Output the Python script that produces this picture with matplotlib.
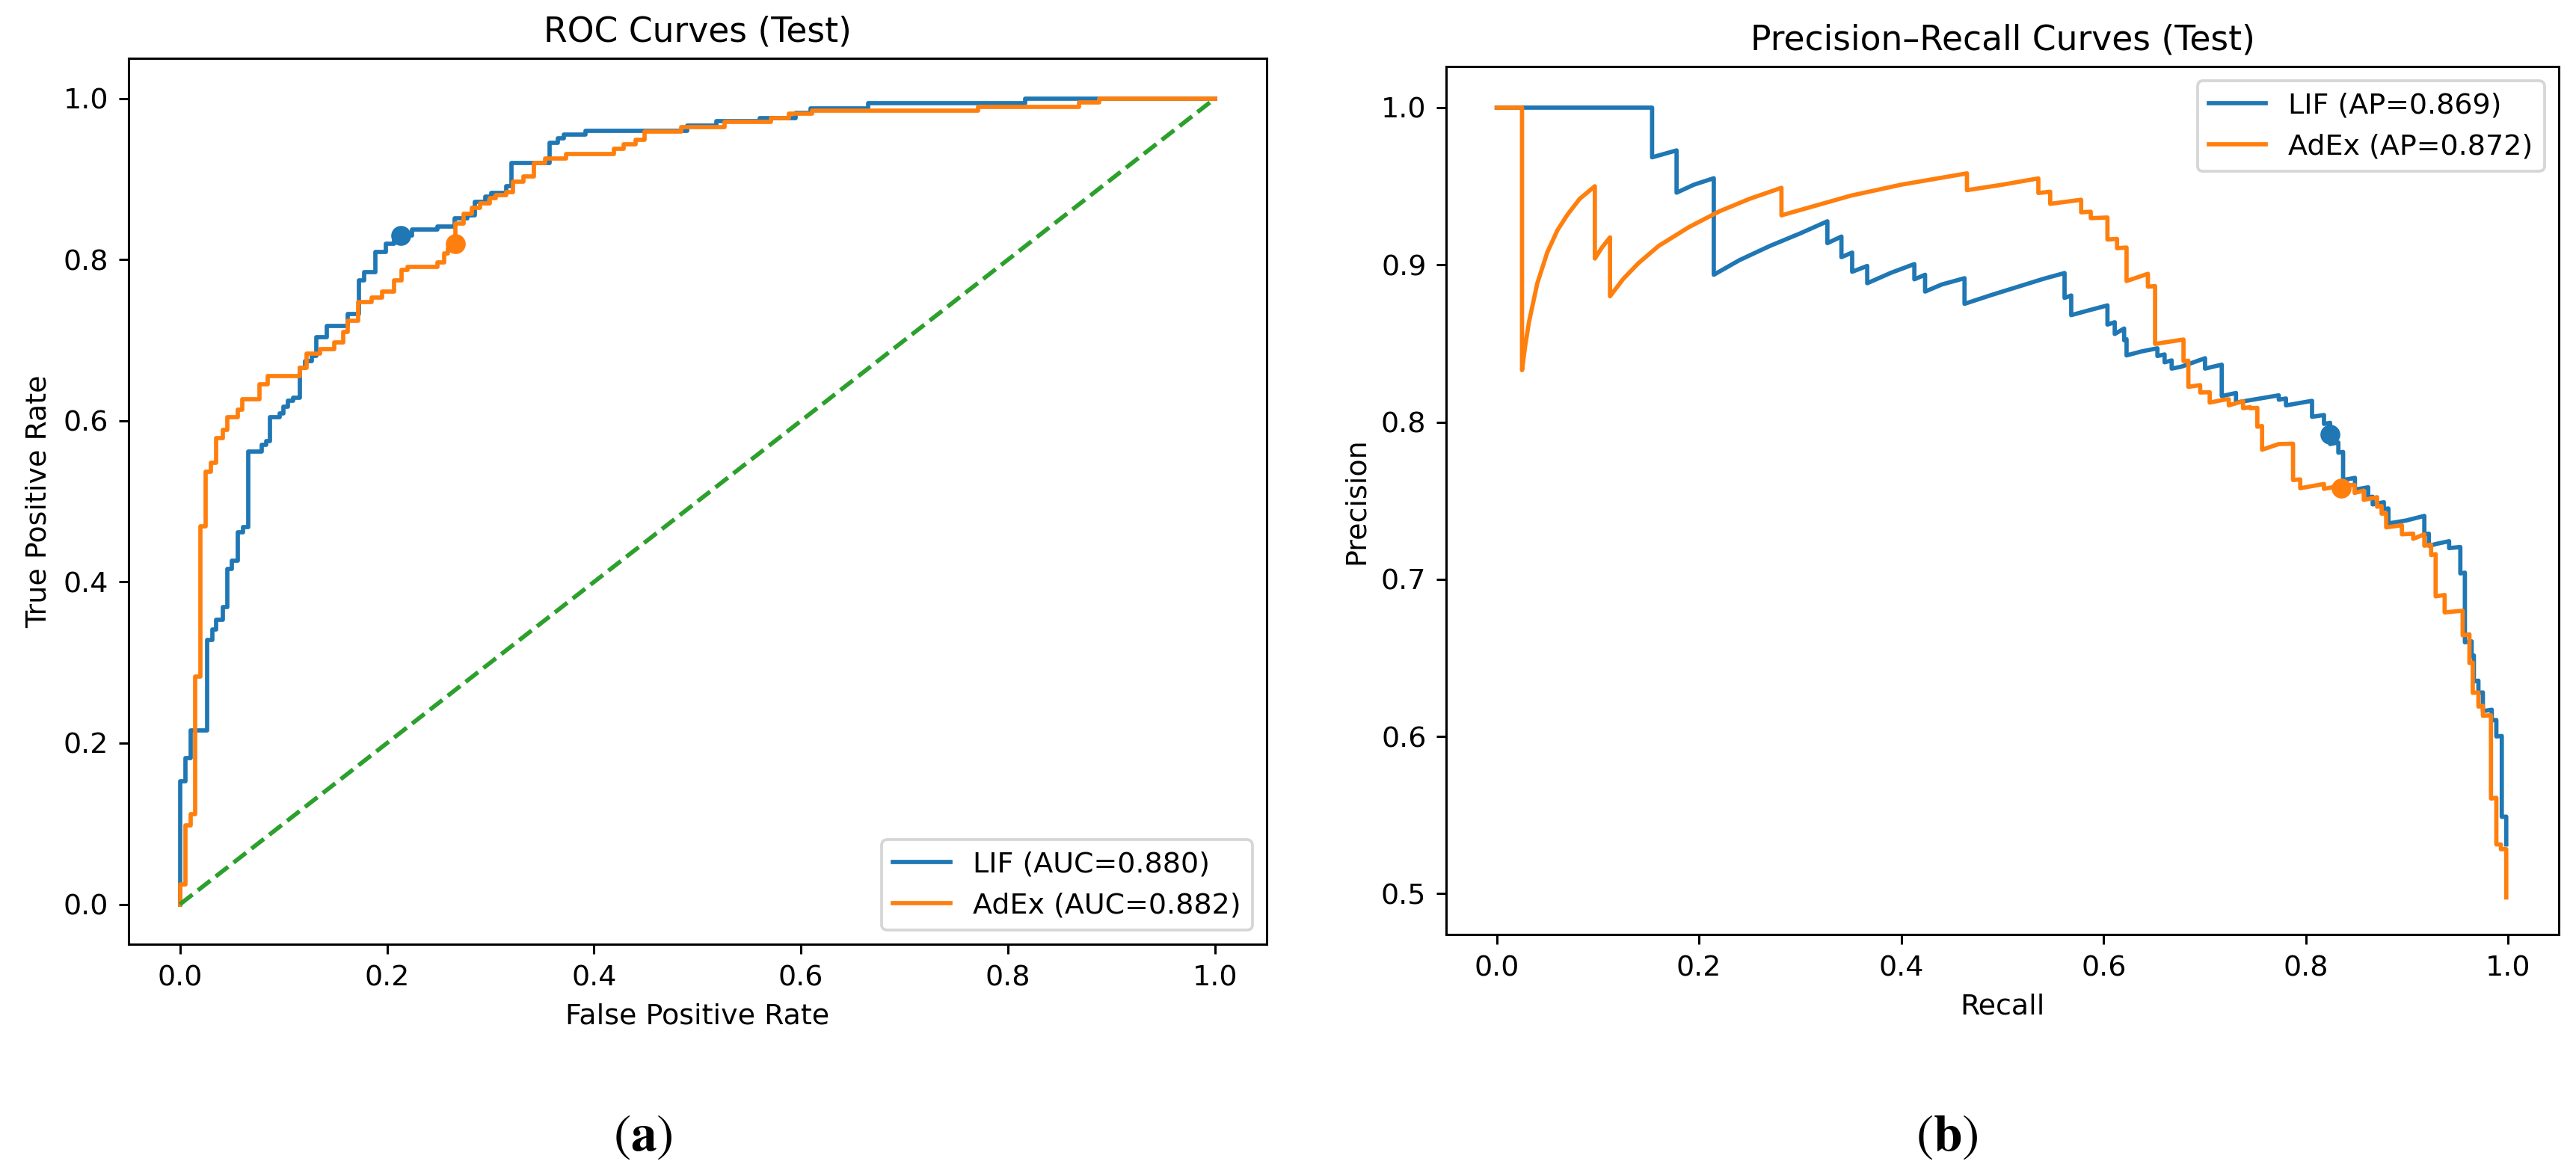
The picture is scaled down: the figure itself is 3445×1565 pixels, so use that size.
import matplotlib
matplotlib.use("Agg")
import matplotlib.pyplot as plt

## Donnees

# ROC : coins des marches (fpr, tpr)
roc_lif_fpr = [0.0, 0.0, 0.005, 0.010, 0.026, 0.031, 0.035, 0.041, 0.046, 0.050, 0.056, 0.061,
               0.066, 0.079, 0.083, 0.087, 0.096, 0.100, 0.104, 0.109, 0.116, 0.121, 0.127, 0.132,
               0.142, 0.162, 0.173, 0.178, 0.189, 0.199, 0.207, 0.224, 0.249, 0.265, 0.278, 0.285,
               0.295, 0.301, 0.315, 0.320, 0.357, 0.365, 0.371, 0.392, 0.490, 0.518, 0.560, 0.595,
               0.609, 0.665, 0.817, 1.0]
roc_lif_tpr = [0.0, 0.153, 0.181, 0.216, 0.328, 0.341, 0.353, 0.369, 0.416, 0.426, 0.462, 0.468,
               0.562, 0.570, 0.575, 0.605, 0.609, 0.618, 0.625, 0.629, 0.666, 0.674, 0.681, 0.704,
               0.718, 0.733, 0.774, 0.785, 0.810, 0.820, 0.830, 0.837, 0.841, 0.851, 0.855, 0.872,
               0.878, 0.883, 0.891, 0.920, 0.945, 0.951, 0.955, 0.960, 0.966, 0.972, 0.976, 0.982,
               0.988, 0.994, 1.0, 1.0]

roc_adex_fpr = [0.0, 0.0, 0.005, 0.010, 0.0145, 0.020, 0.025, 0.030, 0.035, 0.041, 0.046, 0.056,
                0.060, 0.077, 0.085, 0.116, 0.122, 0.135, 0.149, 0.158, 0.162, 0.172, 0.185, 0.195,
                0.207, 0.214, 0.220, 0.249, 0.255, 0.259, 0.266, 0.274, 0.282, 0.290, 0.299, 0.305,
                0.315, 0.322, 0.332, 0.342, 0.353, 0.373, 0.419, 0.429, 0.440, 0.449, 0.484, 0.526,
                0.571, 0.588, 0.611, 0.771, 0.869, 0.888, 1.0]
roc_adex_tpr = [0.0, 0.025, 0.098, 0.112, 0.283, 0.469, 0.537, 0.548, 0.579, 0.589, 0.605, 0.614,
                0.627, 0.645, 0.656, 0.666, 0.683, 0.689, 0.697, 0.710, 0.724, 0.747, 0.753, 0.760,
                0.774, 0.787, 0.791, 0.797, 0.808, 0.814, 0.845, 0.857, 0.864, 0.870, 0.876, 0.880,
                0.884, 0.897, 0.903, 0.920, 0.926, 0.931, 0.938, 0.943, 0.949, 0.959, 0.965, 0.971,
                0.976, 0.981, 0.985, 0.990, 0.995, 1.0, 1.0]

# points de fonctionnement (seuil)
roc_lif_pt = (0.213, 0.830)
roc_adex_pt = (0.266, 0.820)

# Precision-Recall
pr_lif_recall = [0.0, 0.1536, 0.1536, 0.1778, 0.1778, 0.195, 0.2146, 0.2146, 0.24, 0.27, 0.30,
                 0.3269, 0.3269, 0.3408, 0.3408, 0.3514, 0.3514, 0.3663, 0.3663, 0.39, 0.4129,
                 0.4129, 0.4235, 0.4235, 0.44, 0.4625, 0.4625, 0.49, 0.52, 0.54, 0.5614, 0.5614,
                 0.568, 0.568, 0.585, 0.6038, 0.6038, 0.611, 0.611, 0.6203, 0.6203, 0.6227, 0.6227,
                 0.638, 0.6532, 0.6532, 0.6603, 0.6603, 0.6673, 0.6673, 0.6768, 0.7003, 0.7003,
                 0.7168, 0.7168, 0.7309, 0.7309, 0.7732, 0.7732, 0.7803, 0.7803, 0.8061, 0.8061,
                 0.8179, 0.8179, 0.824, 0.824, 0.8321, 0.8321, 0.8368, 0.8368, 0.8485, 0.8485,
                 0.8616, 0.8616, 0.866, 0.866, 0.8771, 0.8771, 0.8816, 0.8816, 0.8993, 0.9171,
                 0.9171, 0.9216, 0.9216, 0.9305, 0.9416, 0.9416, 0.9527, 0.9527, 0.9572, 0.9572,
                 0.9639, 0.9639, 0.9661, 0.9661, 0.9706, 0.9706, 0.975, 0.975, 0.9838, 0.9838,
                 0.9883, 0.9883, 0.9937, 0.9937, 0.9981, 0.9981]
pr_lif_precision = [1.0, 1.0, 0.9684, 0.9728, 0.9459, 0.951, 0.9551, 0.8937, 0.903, 0.912, 0.920,
                    0.9277, 0.9138, 0.918, 0.9049, 0.9078, 0.8956, 0.8993, 0.8883, 0.895, 0.9005,
                    0.8908, 0.8937, 0.883, 0.8875, 0.8915, 0.8752, 0.881, 0.887, 0.891, 0.8948, 0.879,
                    0.8805, 0.868, 0.871, 0.8742, 0.862, 0.8635, 0.856, 0.8595, 0.852, 0.8527, 0.8424,
                    0.845, 0.8469, 0.842, 0.843, 0.838, 0.8392, 0.834, 0.8352, 0.8406, 0.834,
                    0.8365, 0.8165, 0.8185, 0.8124, 0.8170, 0.8142, 0.8150, 0.8106, 0.8135, 0.8033,
                    0.8045, 0.7988, 0.7995, 0.786, 0.787, 0.7805, 0.781, 0.7631, 0.7645, 0.757,
                    0.7585, 0.752, 0.7525, 0.7476, 0.749, 0.7447, 0.745, 0.7355, 0.7374, 0.7403,
                    0.7286, 0.729, 0.7213, 0.7227, 0.7242, 0.7198, 0.7205, 0.7037, 0.7042, 0.6599,
                    0.6605, 0.6511, 0.6515, 0.635, 0.6355, 0.6277, 0.628, 0.6161, 0.617, 0.6102,
                    0.6105, 0.600, 0.6003, 0.5488, 0.549, 0.5313]

pr_adex_recall = [0.0, 0.025, 0.025, 0.028, 0.032, 0.040, 0.050, 0.060, 0.070, 0.082, 0.097, 0.097,
                  0.104, 0.112, 0.112, 0.125, 0.140, 0.160, 0.190, 0.220, 0.250, 0.2815, 0.2815,
                  0.350, 0.400, 0.4649, 0.4649, 0.500, 0.5355, 0.5355, 0.5472, 0.5472, 0.5778,
                  0.5778, 0.5873, 0.5873, 0.6038, 0.6038, 0.6133, 0.6133, 0.6227, 0.6227, 0.6438,
                  0.6438, 0.6509, 0.6509, 0.6790, 0.6790, 0.6838, 0.6838, 0.6955, 0.6955, 0.7049,
                  0.7049, 0.7190, 0.7238, 0.7238, 0.7379, 0.7379, 0.745, 0.745, 0.752, 0.752,
                  0.7567, 0.7567, 0.7732, 0.7873, 0.7873, 0.7944, 0.7944, 0.8179, 0.8179, 0.8344,
                  0.8482, 0.8482, 0.8572, 0.8572, 0.8704, 0.8704, 0.8749, 0.8749, 0.8794, 0.8794,
                  0.8949, 0.8949, 0.9061, 0.9061, 0.9171, 0.9171, 0.9238, 0.9238, 0.9283, 0.9283,
                  0.9372, 0.9372, 0.955, 0.955, 0.9617, 0.9617, 0.965, 0.965, 0.9706, 0.9706,
                  0.975, 0.975, 0.983, 0.983, 0.9883, 0.9883, 0.9928, 0.9928, 0.9981, 0.9981]
pr_adex_precision = [1.0, 1.0, 0.833, 0.848, 0.864, 0.888, 0.908, 0.922, 0.932, 0.942, 0.950, 0.904,
                     0.911, 0.9175, 0.880, 0.891, 0.901, 0.912, 0.924, 0.934, 0.942, 0.949, 0.9315,
                     0.944, 0.951, 0.9582, 0.9475, 0.951, 0.955, 0.9457, 0.9465, 0.9388, 0.9414,
                     0.9334, 0.9338, 0.9297, 0.9301, 0.9161, 0.9165, 0.9106, 0.9110, 0.8897, 0.8943,
                     0.8861, 0.8865, 0.8497, 0.8525, 0.8388, 0.839, 0.8224, 0.8235, 0.8188, 0.819,
                     0.8124, 0.8142, 0.8145, 0.8106, 0.8133, 0.8088, 0.8095, 0.8088, 0.809, 0.797,
                     0.7975, 0.7824, 0.786, 0.7862, 0.7631, 0.7635, 0.7579, 0.7606, 0.7575, 0.7595,
                     0.7600, 0.7549, 0.7564, 0.7505, 0.7522, 0.7461, 0.7466, 0.7417, 0.7420, 0.7330,
                     0.7344, 0.7286, 0.7290, 0.7257, 0.7286, 0.7213, 0.7220, 0.7154, 0.7160, 0.6891,
                     0.6900, 0.6789, 0.6800, 0.6643, 0.6650, 0.6467, 0.6470, 0.6277, 0.6280, 0.6190,
                     0.6195, 0.6131, 0.6135, 0.5605, 0.5610, 0.5313, 0.5313, 0.5283, 0.5283, 0.4976]

pr_lif_pt = (0.824, 0.7924)
pr_adex_pt = (0.835, 0.758)

roc_labels = ["LIF (AUC=0.880)", "AdEx (AUC=0.882)"]
pr_labels = ["LIF (AP=0.869)", "AdEx (AP=0.872)"]

## Style (valeurs par defaut de matplotlib mises a l'echelle)
S = 2.74
plt.rcParams.update({
    "font.family": "DejaVu Sans",
    "font.size": 10 * S,
    "axes.titlesize": 12 * S,
    "axes.labelsize": 10 * S,
    "xtick.labelsize": 10 * S,
    "ytick.labelsize": 10 * S,
    "legend.fontsize": 10 * S,
    "lines.linewidth": 1.5 * S,
    "lines.markersize": 6 * S,
    "axes.linewidth": 0.8 * S,
    "patch.linewidth": 1.0 * S,
    "xtick.major.size": 3.5 * S,
    "ytick.major.size": 3.5 * S,
    "xtick.major.width": 0.8 * S,
    "ytick.major.width": 0.8 * S,
    "xtick.major.pad": 3.5 * S,
    "ytick.major.pad": 3.5 * S,
    "axes.titlepad": 6 * S,
    "axes.labelpad": 4 * S,
    "mathtext.fontset": "stix",
})

fig = plt.figure(figsize=(34.45, 15.65), dpi=100)

# Panneau (a) : ROC
ax1 = fig.add_axes([0.0498, 0.1927, 0.4419, 0.7575])
ax1.plot(roc_lif_fpr, roc_lif_tpr, drawstyle="steps-post", color="tab:blue", label=roc_labels[0])
ax1.scatter([roc_lif_pt[0]], [roc_lif_pt[1]], s=(6 * S) ** 2, color="tab:blue", zorder=3)
ax1.plot(roc_adex_fpr, roc_adex_tpr, drawstyle="steps-post", color="tab:orange", label=roc_labels[1])
ax1.scatter([roc_adex_pt[0]], [roc_adex_pt[1]], s=(6 * S) ** 2, color="tab:orange", zorder=3)
ax1.plot([0, 1], [0, 1], "--", color="tab:green")
ax1.set_xlim(-0.05, 1.05)
ax1.set_ylim(-0.05, 1.05)
ax1.set_xticks([0.0, 0.2, 0.4, 0.6, 0.8, 1.0])
ax1.set_yticks([0.0, 0.2, 0.4, 0.6, 0.8, 1.0])
ax1.set_xlabel("False Positive Rate")
ax1.set_ylabel("True Positive Rate")
ax1.set_title("ROC Curves (Test)")
ax1.legend(loc="lower right")

# Panneau (b) : Precision-Recall
ax2 = fig.add_axes([0.5614, 0.2010, 0.4319, 0.7422])
ax2.plot(pr_lif_recall, pr_lif_precision, color="tab:blue", label=pr_labels[0])
ax2.scatter([pr_lif_pt[0]], [pr_lif_pt[1]], s=(6 * S) ** 2, color="tab:blue", zorder=3)
ax2.plot(pr_adex_recall, pr_adex_precision, color="tab:orange", label=pr_labels[1])
ax2.scatter([pr_adex_pt[0]], [pr_adex_pt[1]], s=(6 * S) ** 2, color="tab:orange", zorder=3)
ax2.set_xlim(-0.05, 1.05)
ax2.set_ylim(0.4738, 1.0262)
ax2.set_xticks([0.0, 0.2, 0.4, 0.6, 0.8, 1.0])
ax2.set_yticks([0.5, 0.6, 0.7, 0.8, 0.9, 1.0])
ax2.set_xlabel("Recall")
ax2.set_ylabel("Precision")
ax2.set_title("Precision\u2013Recall Curves (Test)")
ax2.legend(loc="upper right")

# lettres des panneaux
fig.text(0.2496, 0.029, r"$(\mathbf{a})$", fontsize=50, ha="center", va="center")
fig.text(0.7559, 0.029, r"$(\mathbf{b})$", fontsize=50, ha="center", va="center")

fig.savefig("out.png", dpi=100)
